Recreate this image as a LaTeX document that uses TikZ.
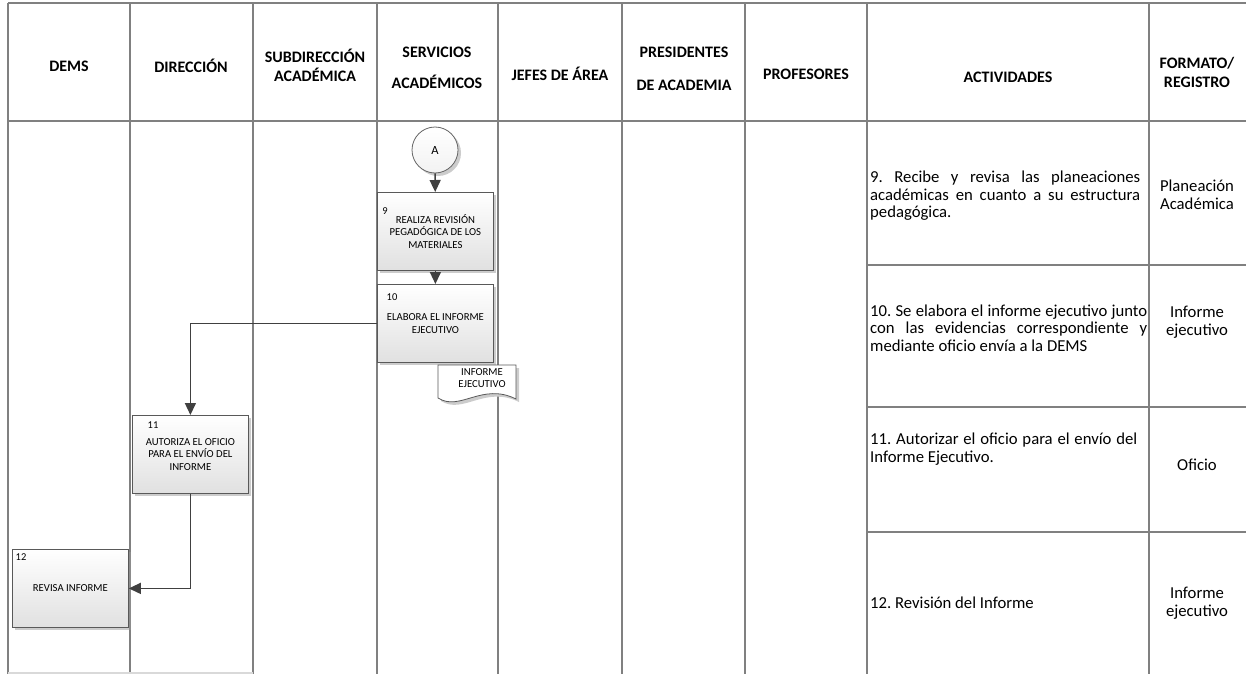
\documentclass[tikz,border=0pt]{standalone}
\usepackage{fontspec}
\setmainfont{Carlito}
\usetikzlibrary{arrows.meta,shadows}
\newcommand{\jl}[2]{\makebox[#1][s]{#2}}
\frenchspacing

\tikzset{
	lane/.style={draw=black!50, line width=1.3pt},
	hdr/.style={font=\fontsize{16}{19}\selectfont\bfseries, align=center, inner sep=0pt},
	procbox/.style={draw=black!65, line width=0.8pt, top color=white, bottom color=black!12,
		minimum width=116pt, minimum height=78pt, inner sep=0pt, align=center,
		font=\fontsize{10.7}{12.7}\selectfont,
		drop shadow={shadow xshift=3pt, shadow yshift=-3pt, fill=black!40}},
	numlbl/.style={font=\fontsize{10.5}{12}\selectfont, inner sep=0pt},
	conn/.style={draw=black!75, line width=1.4pt, -{Triangle[length=12pt,width=11pt]}},
	acttxt/.style={font=\fontsize{16.7}{17.5}\selectfont, align=left, inner sep=0pt, anchor=west},
	fmttxt/.style={font=\fontsize{16.7}{17.5}\selectfont, align=center, inner sep=0pt},
}

\begin{document}
\begin{tikzpicture}[x=1pt, y=-1pt]
			%%%%% START %%%%%
			\useasboundingbox (0,0) rectangle (1246,674);
			
			% lanes
			\draw[lane] (8,3) -- (1246,3);
			\draw[lane] (8,121) -- (1246,121);
			\foreach \lx in {8,130,253,377,498,622,745,867,1149}
				\draw[lane] (\lx,3) -- (\lx,674);
			\foreach \ly in {265,407,532}
				\draw[lane] (867,\ly) -- (1246,\ly);
			\draw[draw=black!15, line width=1.3pt] (8,673) -- (253,673);
			
			% headers
			\node[hdr] (hdems) at (69,66) {DEMS};
			\node[hdr] (hdir) at (191,66) {DIRECCIÓN};
			\node[hdr] (hsub) at (315,65) {SUBDIRECCIÓN\\ACADÉMICA};
			\node[hdr] (hserv) at (437,68) {SERVICIOS\\[12pt]ACADÉMICOS};
			\node[hdr] (hjef) at (560,74) {JEFES DE ÁREA};
			\node[hdr] (hpres) at (684,69) {PRESIDENTES\\[14pt]DE ACADEMIA};
			\node[hdr] (hprof) at (806,74) {PROFESORES};
			\node[hdr] (hact) at (1008,77) {ACTIVIDADES};
			\node[hdr] (hfmt) at (1197,72) {FORMATO/\\REGISTRO};
			
			% flow
			\node[circle, draw=black!60, line width=0.8pt, top color=white, bottom color=black!5,
				minimum size=46pt, inner sep=0pt, font=\fontsize{12.5}{14}\selectfont,
				drop shadow={shadow xshift=3pt, shadow yshift=-3pt, fill=black!40}] (conA) at (435,150) {A};
			\node[procbox, anchor=north west] (b9) at (377,192) {REALIZA REVISIÓN\\PEGADÓGICA DE LOS\\MATERIALES};
			\node[procbox, anchor=north west] (b10) at (377,284) {ELABORA EL INFORME\\EJECUTIVO};
			\node[procbox, anchor=north west] (b11) at (132,415) {AUTORIZA EL OFICIO\\PARA EL ENVÍO DEL\\INFORME};
			\node[procbox, anchor=north west] (b12) at (12,549) {REVISA INFORME};
			
			\node[numlbl] (n9) at (385,211) {9};
			\node[numlbl] (n10) at (392,297) {10};
			\node[numlbl] (n11) at (153,425) {11};
			\node[numlbl] (n12) at (21,557) {12};
			
			% document
			\fill[black!20] (441,368) -- (519,368) -- (519,402) .. controls (485,385) and (463,415) .. (441,401) -- cycle;
			\draw[draw=black!65, line width=0.8pt, fill=white] (438,365) -- (516,365) -- (516,399) .. controls (482,382) and (460,412) .. (438,398) -- cycle;
			\node[font=\fontsize{10.7}{12.7}\selectfont, align=center, inner sep=0pt] (docinf) at (482,378) {INFORME\\EJECUTIVO};
			
			\draw[conn] (conA) -- (b9);
			\draw[conn] (b9) -- (b10);
			\draw[conn] (b10.west) -| (b11.north);
			\draw[conn] (b11.south) |- (b12.east);
			
			% activities
			\node[acttxt] (act9) at (870,196) {\jl{270pt}{9. Recibe y revisa las planeaciones}\\\jl{270pt}{académicas en cuanto a su estructura}\\pedagógica.};
			\node[acttxt] (act10) at (870,328) {\jl{277pt}{10. Se elabora el informe ejecutivo junto}\\\jl{277pt}{con las evidencias correspondiente y}\\mediante oficio envía a la DEMS};
			\node[acttxt] (act11) at (870,449) {\jl{267pt}{11. Autorizar el oficio para el envío del}\\Informe Ejecutivo.};
			\node[acttxt] (act12) at (870,603) {12. Revisión del Informe};
			
			\node[fmttxt] (f9) at (1197,195) {Planeación\\Académica};
			\node[fmttxt] (f10) at (1197,322) {Informe\\ejecutivo};
			\node[fmttxt] (f11) at (1197,465) {Oficio};
			\node[fmttxt] (f12) at (1197,603) {Informe\\ejecutivo};
			%%%%% END %%%%%
\end{tikzpicture}
\end{document}
